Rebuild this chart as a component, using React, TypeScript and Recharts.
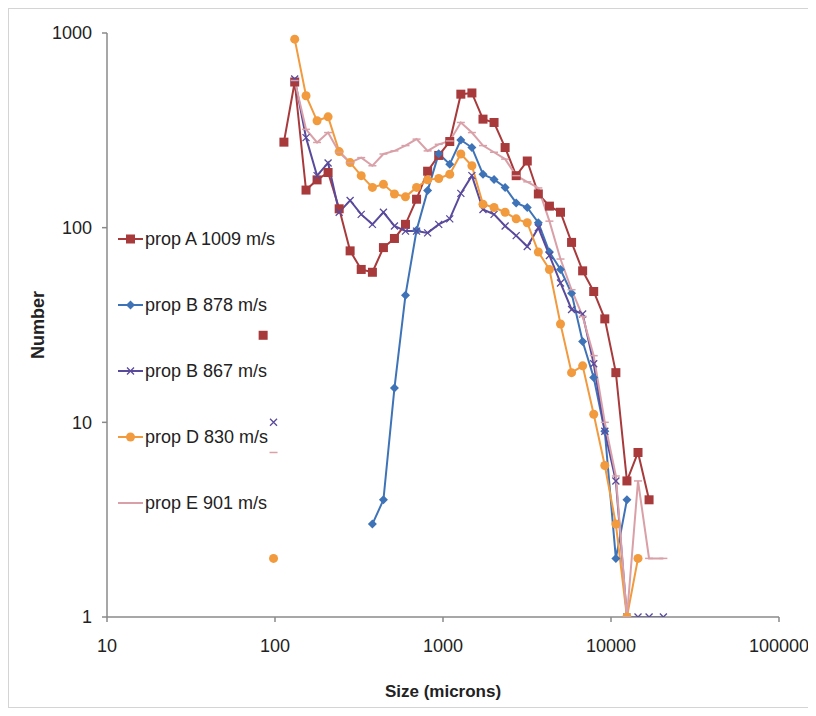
import React from 'react'
import { LineChart, Line, XAxis, YAxis } from 'recharts'

// bin sizes (microns), shared by every series
const sizes = [
  85, 98, 113, 131, 153, 178, 207, 241, 280, 326, 380, 442, 514, 598, 696, 810, 943, 1097, 1277,
  1486, 1730, 2013, 2343, 2727, 3174, 3694, 4300, 5005, 5825, 6780, 7890, 9185, 10690, 12440,
  14480, 16850, 20500,
]

const propA = [
  28, null, 275, 560, 156, 176, 192, 125, 76, 61, 59, 79, 88, 104, 140, 195, 235, 277, 485,
  492, 361, 347, 258, 185, 220, 149, 129, 120, 84, 60, 47, 34, 18, 5, 7, 4, null,
]
const propB878 = [
  null, null, null, null, null, null, null, null, null, null, 3, 4, 15, 45, 97, 155, 240, 212, 282,
  258, 188, 177, 161, 134, 127, 106, 75, 61, 46, 26, 17, 9, 2, 4, null, null, null,
]
const propB867 = [
  null, 10, null, 580, 290, 185, 215, 120, 138, 117, 104, 120, 102, 96, 96, 94, 104, 111, 150,
  185, 124, 117, 102, 91, 80, 100, 72, 52, 38, 36, 20, 9, 5, 1, 1, 1, 1,
]
const propD = [
  null, 2, null, 930, 476, 354, 371, 246, 216, 185, 161, 167, 149, 144, 161, 176, 179, 188, 239,
  208, 132, 127, 120, 111, 106, 75, 61, 32, 18, 19.5, 11, 6, 3, 1, 2, null, null,
]
const propE = [
  null, 7, null, 570, 320, 274, 308, 244, 216, 229, 208, 239, 248, 264, 285, 248, 268, 279, 347,
  308, 264, 244, 225, 185, 172, 160, 108, 69, 48, 35, 22, 10, 5.3, 1, 5, 2, 2,
]

const xTicks = [10, 100, 1000, 10000, 100000]
const yTicks = [1, 10, 100, 1000]

type Marker = 'square' | 'diamond' | 'cross' | 'circle' | 'dash'

const series: { name: string; values: (number | null)[]; color: string; marker: Marker }[] = [
  { name: 'prop A 1009 m/s', values: propA, color: '#A83A3C', marker: 'square' },
  { name: 'prop B 878 m/s', values: propB878, color: '#3F73B7', marker: 'diamond' },
  { name: 'prop B 867 m/s', values: propB867, color: '#5A4A9C', marker: 'cross' },
  { name: 'prop D 830 m/s', values: propD, color: '#F29A3E', marker: 'circle' },
  { name: 'prop E 901 m/s', values: propE, color: '#D9A0A8', marker: 'dash' },
]

const FONT = '"Liberation Sans", Arial, sans-serif'

function MarkerShape({ x, y, marker, color }: { x: number; y: number; marker: Marker; color: string }) {
  switch (marker) {
    case 'square':
      return <rect x={x - 4.5} y={y - 4.5} width={9} height={9} fill={color} />
    case 'diamond':
      return <polygon points={`${x},${y - 4.5} ${x + 4.5},${y} ${x},${y + 4.5} ${x - 4.5},${y}`} fill={color} />
    case 'cross':
      return (
        <path d={`M${x - 3.5},${y - 3.5}L${x + 3.5},${y + 3.5}M${x - 3.5},${y + 3.5}L${x + 3.5},${y - 3.5}`} stroke={color} strokeWidth={1.3} />
      )
    case 'circle':
      return <circle cx={x} cy={y} r={4.5} fill={color} />
    default:
      return <path d={`M${x - 4},${y}L${x + 4},${y}`} stroke={color} strokeWidth={1.5} />
  }
}

function makeDot(marker: Marker, color: string) {
  return (props: any) => {
    const { cx, cy, index, value } = props
    if (cx == null || cy == null || value == null) return <g key={`d-${marker}-${index}`} />
    return (
      <g key={`d-${marker}-${index}`}>
        <MarkerShape x={cx} y={cy} marker={marker} color={color} />
      </g>
    )
  }
}

// legend sits inside the plot area, left side, drawn over the chart
function LegendBox() {
  return (
    <div style={{ position: 'absolute', left: 109, top: 197, fontFamily: FONT, fontSize: 18, color: '#222' }}>
      {series.map((s) => (
        <div key={s.name} style={{ height: 66, display: 'flex', alignItems: 'center' }}>
          <svg width={26} height={12} style={{ marginRight: 1 }}>
            <line x1={0} y1={6} x2={25} y2={6} stroke={s.color} strokeWidth={2} />
            {s.marker !== 'dash' && <MarkerShape x={12.5} y={6} marker={s.marker} color={s.color} />}
          </svg>
          <span>{s.name}</span>
        </div>
      ))}
    </div>
  )
}

export default function App() {
  return (
    <div style={{ position: 'relative', width: 800, height: 698, border: '1px solid #d4d4d4', background: '#fff' }}>
      <LineChart width={800} height={698} margin={{ top: 24, right: 30, bottom: 0, left: 0 }}>
        <XAxis
          type="number"
          dataKey="size"
          scale="log"
          domain={[10, 100000]}
          ticks={xTicks}
          allowDataOverflow
          height={90}
          stroke="#8a8a8a"
          strokeWidth={1.5}
          tickSize={5}
          tickMargin={17}
          tick={{ fill: '#222', fontSize: 18, fontFamily: FONT }}
          label={{
            value: 'Size (microns)',
            position: 'insideBottom',
            offset: 10,
            style: { fill: '#222', fontSize: 17, fontWeight: 'bold', fontFamily: FONT },
          }}
        />
        <YAxis
          type="number"
          scale="log"
          domain={[1, 1000]}
          ticks={yTicks}
          allowDataOverflow
          width={98}
          stroke="#8a8a8a"
          strokeWidth={1.5}
          tickSize={5}
          tickMargin={10}
          tick={{ fill: '#222', fontSize: 18, fontFamily: FONT }}
          label={{
            value: 'Number',
            angle: -90,
            position: 'insideLeft',
            offset: 29,
            style: { fill: '#222', fontSize: 18, fontWeight: 'bold', fontFamily: FONT, textAnchor: 'middle' },
          }}
        />
        {series.map((s) => (
          <Line
            key={s.name}
            name={s.name}
            data={sizes.map((size, i) => ({ size, value: s.values[i] ?? null }))}
            dataKey="value"
            stroke={s.color}
            strokeWidth={2}
            dot={makeDot(s.marker, s.color)}
            activeDot={false}
            isAnimationActive={false}
            connectNulls={false}
          />
        ))}
      </LineChart>
      <LegendBox />
    </div>
  )
}
